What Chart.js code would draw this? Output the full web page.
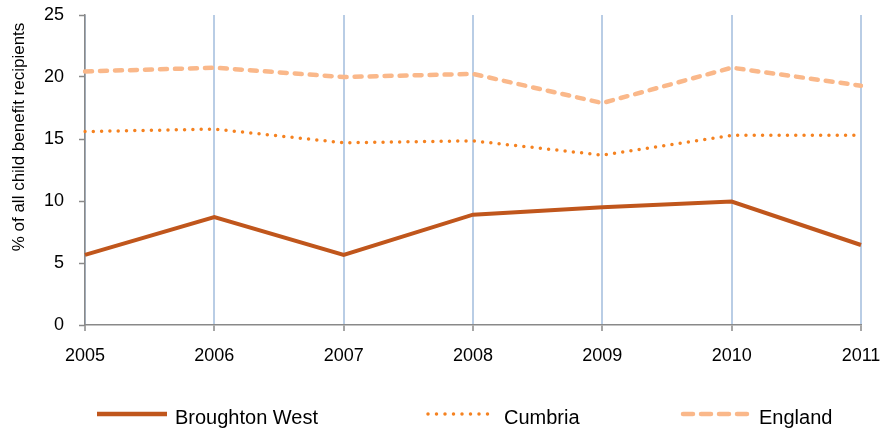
<!DOCTYPE html>
<html>
<head>
<meta charset="utf-8">
<script src="https://cdn.jsdelivr.net/npm/chart.js@4/dist/chart.umd.min.js"></script>
<style>
  html, body { margin: 0; padding: 0; background: #fff; }
  canvas { display: block; }
</style>
</head>
<body>
<canvas id="chart" width="883" height="430"></canvas>
<script>
const years = ['2005', '2006', '2007', '2008', '2009', '2010', '2011'];
const broughtonWest = [5.65, 8.7, 5.65, 8.9, 9.5, 9.95, 6.45];
const cumbria = [15.6, 15.8, 14.7, 14.85, 13.7, 15.3, 15.3];
const england = [20.45, 20.75, 20.0, 20.25, 17.9, 20.75, 19.3];
const yTitle = '% of all child benefit recipients';

const FONT = '"Liberation Sans", Arial, sans-serif';
const AXIS_GREY = '#898989';

// legend drawn by hand so the items sit where the original puts them
const legendItems = [
  { x: 97, text: 'Broughton West', color: '#C0561C', width: 4.5, dash: [], cap: 'butt' },
  { x: 426, text: 'Cumbria', color: '#F58220', width: 3.5, dash: [0, 8.5], cap: 'round' },
  { x: 681, text: 'England', color: '#FAB88A', width: 4.5, dash: [10, 8], cap: 'round' },
];

const customLabels = {
  id: 'customLabels',
  afterDraw(chart) {
    const { ctx } = chart;
    ctx.save();
    // y axis title
    ctx.translate(19, 137);
    ctx.rotate(-Math.PI / 2);
    ctx.font = '17px ' + FONT;
    ctx.fillStyle = '#000';
    ctx.textAlign = 'center';
    ctx.textBaseline = 'middle';
    ctx.fillText(yTitle, 0, 0);
    ctx.restore();

    ctx.save();
    legendItems.forEach((item) => {
      ctx.beginPath();
      ctx.strokeStyle = item.color;
      ctx.lineWidth = item.width;
      ctx.lineCap = item.cap;
      ctx.setLineDash(item.dash);
      ctx.moveTo(item.x + (item.cap === 'round' ? 2 : 0), 414);
      ctx.lineTo(item.x + 70, 414);
      ctx.stroke();
      ctx.setLineDash([]);
      ctx.font = '20px ' + FONT;
      ctx.fillStyle = '#000';
      ctx.textAlign = 'left';
      ctx.textBaseline = 'alphabetic';
      ctx.fillText(item.text, item.x + 78, 424);
    });
    ctx.restore();
  },
};

new Chart(document.getElementById('chart'), {
  type: 'line',
  data: {
    labels: years,
    datasets: [
      {
        label: 'Broughton West',
        data: broughtonWest,
        borderColor: '#C0561C',
        borderWidth: 4,
        pointRadius: 0,
        tension: 0,
      },
      {
        label: 'Cumbria',
        data: cumbria,
        borderColor: '#F58220',
        borderWidth: 3.5,
        borderDash: [0, 8.3],
        borderCapStyle: 'round',
        pointRadius: 0,
        tension: 0,
      },
      {
        label: 'England',
        data: england,
        borderColor: '#FAB88A',
        borderWidth: 4.5,
        borderDash: [7, 8],
        borderCapStyle: 'round',
        pointRadius: 0,
        tension: 0,
      },
    ],
  },
  options: {
    responsive: false,
    animation: false,
    events: [],
    layout: { padding: { top: 15, right: 22, left: 0, bottom: 0 } },
    plugins: {
      legend: { display: false },
      tooltip: { enabled: false },
    },
    scales: {
      x: {
        offset: false,
        grid: {
          color: '#B9CDE5',
          lineWidth: 2,
          tickColor: AXIS_GREY,
          tickLength: 6,
          tickWidth: 1.5,
        },
        border: { color: AXIS_GREY, width: 1.5 },
        ticks: {
          padding: 14,
          color: '#000',
          font: { family: FONT, size: 18 },
          maxRotation: 0,
        },
        afterFit(scale) {
          scale.height = 105;
          scale.paddingLeft = 0;
          scale.paddingRight = 0;
        },
      },
      y: {
        min: 0,
        max: 25,
        grid: {
          drawOnChartArea: false,
          tickColor: AXIS_GREY,
          tickLength: 6,
          tickWidth: 1.5,
        },
        border: { color: AXIS_GREY, width: 1.5 },
        ticks: {
          stepSize: 5,
          padding: 15,
          color: '#000',
          font: { family: FONT, size: 18 },
        },
        afterFit(scale) {
          scale.width = 85;
          scale.paddingTop = 0;
          scale.paddingBottom = 0;
        },
      },
    },
  },
  plugins: [customLabels],
});
</script>
</body>
</html>
